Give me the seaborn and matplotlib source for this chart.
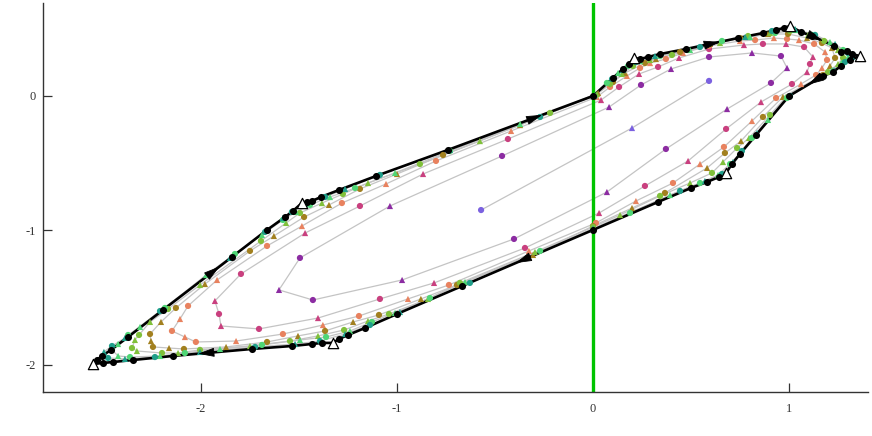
import numpy as np
import pandas as pd
import matplotlib
matplotlib.use("Agg")
import matplotlib.pyplot as plt
import seaborn as sns

# -----------------------------
# Limit cycle (black) and its corner points
# -----------------------------
cycle_x = [0.000, 0.102, 0.153, 0.184, 0.209, 0.240, 0.281, 0.342, 0.474, 0.740,
           0.867, 0.934, 0.974, 1.005, 1.061, 1.117, 1.230, 1.265, 1.296, 1.321,
           1.362, 1.311, 1.265, 1.224, 1.173, 1.000, 0.832, 0.750, 0.709, 0.679,
           0.643, 0.582, 0.500, 0.332, 0.000, -0.668, -1.000, -1.163, -1.250, -1.296,
           -1.327, -1.383, -1.434, -1.536, -1.740, -2.143, -2.347, -2.449, -2.500, -2.551,
           -2.531, -2.505, -2.459, -2.372, -2.194, -1.842, -1.663, -1.571, -1.531, -1.485,
           -1.459, -1.434, -1.388, -1.296, -1.107, -0.740]
cycle_y = [0.000, 0.134, 0.201, 0.238, 0.283, 0.275, 0.290, 0.312, 0.349, 0.431,
           0.468, 0.491, 0.506, 0.520, 0.476, 0.446, 0.372, 0.327, 0.335, 0.312,
           0.297, 0.268, 0.223, 0.178, 0.149, 0.000, -0.290, -0.431, -0.506, -0.572,
           -0.602, -0.639, -0.684, -0.788, -0.996, -1.413, -1.621, -1.725, -1.777, -1.807,
           -1.836, -1.836, -1.844, -1.859, -1.881, -1.933, -1.963, -1.978, -1.985, -1.993,
           -1.963, -1.933, -1.888, -1.792, -1.591, -1.197, -0.996, -0.900, -0.855, -0.796,
           -0.788, -0.781, -0.751, -0.699, -0.595, -0.401]
corner_idx = [4, 13, 20, 29, 40, 49, 59]
arrow_seg = [65, 8, 15, 24, 34, 44, 54]
arrow_frac = [0.63, 0.63, 0.45, 0.41, 0.57, 0.66, 0.80]

# -----------------------------
# Inner orbits, smallest to largest
# -----------------------------
lavender_x = [-0.571, 0.199, 0.592]
lavender_y = [-0.848, -0.238, 0.112]

purple_x = [0.990, 0.908, 0.684, 0.372, 0.071, -0.403, -0.974, -1.429, -1.602,
            -1.495, -1.036, -0.464, 0.082, 0.245, 0.398, 0.592, 0.811, 0.959]
purple_y = [0.208, 0.097, -0.097, -0.394, -0.714, -1.063, -1.368, -1.517, -1.442,
            -1.204, -0.818, -0.446, -0.082, 0.082, 0.201, 0.290, 0.320, 0.297]

magenta_x = [0.041, 0.133, 0.235, 0.332, 0.439, 0.592, 0.770, 0.867, 0.985, 1.077,
             1.122, 1.107, 1.092, 1.015, 0.857, 0.679, 0.485, 0.265, 0.031, -0.347,
             -0.811, -1.087, -1.403, -1.704, -1.898, -1.908, -1.929, -1.796, -1.469,
             -1.189, -0.867, -0.434]
magenta_y = [-0.030, 0.067, 0.164, 0.216, 0.283, 0.349, 0.379, 0.387, 0.387, 0.364,
             0.290, 0.238, 0.178, 0.089, -0.045, -0.245, -0.483, -0.669, -0.870, -1.130,
             -1.390, -1.509, -1.651, -1.732, -1.710, -1.621, -1.524, -1.323, -1.019,
             -0.818, -0.580, -0.320]

salmon_x = [0.020, 0.087, 0.173, 0.240, 0.291, 0.372, 0.459, 0.592, 0.750, 0.827,
            0.923, 0.990, 1.051, 1.128, 1.184, 1.194, 1.168, 1.138, 1.061, 0.934,
            0.811, 0.668, 0.546, 0.408, 0.219, 0.015, -0.327, -0.735, -0.944, -1.194,
            -1.378, -1.582, -1.821, -2.026, -2.082, -2.148, -2.107, -2.066, -1.918,
            -1.663, -1.485, -1.281, -1.056, -0.801, -0.418]
salmon_y = [-0.007, 0.067, 0.149, 0.208, 0.245, 0.275, 0.320, 0.372, 0.409, 0.416,
            0.431, 0.424, 0.416, 0.387, 0.327, 0.268, 0.208, 0.156, 0.089, -0.015,
            -0.186, -0.379, -0.506, -0.647, -0.781, -0.944, -1.152, -1.405, -1.509, -1.636,
            -1.703, -1.770, -1.822, -1.829, -1.792, -1.747, -1.658, -1.561, -1.368,
            -1.115, -0.967, -0.796, -0.654, -0.483, -0.260]

olive_x = [0.026, 0.102, 0.163, 0.265, 0.321, 0.444, 0.597, 0.750, 0.893, 0.995,
           1.092, 1.168, 1.219, 1.235, 1.209, 1.173, 0.969, 0.867, 0.755, 0.673,
           0.582, 0.367, 0.199, 0.000, -0.306, -0.694, -0.878, -1.092, -1.224, -1.367,
           -1.505, -1.663, -1.872, -2.087, -2.163, -2.245, -2.255, -2.260, -2.204, -2.128,
           -1.980, -1.750, -1.628, -1.474, -1.347, -1.189, -1.000, -0.765, -0.372]
olive_y = [0.022, 0.104, 0.171, 0.245, 0.275, 0.327, 0.387, 0.431, 0.461, 0.461,
           0.431, 0.394, 0.357, 0.283, 0.223, 0.156, -0.007, -0.156, -0.335, -0.424,
           -0.535, -0.721, -0.833, -0.967, -1.182, -1.405, -1.509, -1.628, -1.680, -1.747,
           -1.784, -1.829, -1.866, -1.881, -1.874, -1.866, -1.822, -1.770, -1.680, -1.576,
           -1.398, -1.152, -1.041, -0.900, -0.810, -0.691, -0.580, -0.439, -0.216]

lime_x = [0.020, 0.087, 0.148, 0.204, 0.291, 0.403, 0.648, 0.791, 0.903, 1.005,
          1.097, 1.179, 1.250, 1.276, 1.250, 1.199, 0.985, 0.903, 0.796, 0.735,
          0.663, 0.607, 0.495, 0.342, 0.138, 0.000, -0.296, -0.679, -0.842, -1.041,
          -1.148, -1.270, -1.403, -1.546, -1.750, -2.005, -2.117, -2.199, -2.327, -2.352,
          -2.337, -2.316, -2.260, -2.168, -2.005, -1.694, -1.566, -1.495, -1.383, -1.276,
          -1.148, -0.883, -0.577, -0.219]
lime_y = [0.015, 0.089, 0.164, 0.223, 0.268, 0.305, 0.394, 0.446, 0.468, 0.483,
          0.454, 0.409, 0.342, 0.283, 0.238, 0.178, -0.007, -0.141, -0.312, -0.387,
          -0.491, -0.572, -0.647, -0.743, -0.885, -0.974, -1.160, -1.390, -1.509, -1.621,
          -1.673, -1.740, -1.784, -1.822, -1.859, -1.888, -1.911, -1.911, -1.896, -1.874,
          -1.814, -1.777, -1.680, -1.584, -1.405, -1.078, -0.944, -0.870, -0.796, -0.729,
          -0.647, -0.506, -0.335, -0.126]

green_x = [0.010, 0.071, 0.128, 0.179, 0.240, 0.342, 0.495, 0.658, 0.801, 0.929,
           1.031, 1.117, 1.209, 1.276, 1.301, 1.276, 1.219, 0.990, 0.893, 0.811,
           0.750, 0.699, 0.638, 0.546, 0.393, 0.189, 0.000, -0.270, -0.653, -0.832,
           -1.010, -1.128, -1.240, -1.362, -1.495, -1.689, -1.903, -2.082, -2.209, -2.362,
           -2.423, -2.454, -2.423, -2.372, -2.311, -2.184, -1.974, -1.827, -1.689, -1.582,
           -1.515, -1.444, -1.342, -1.214, -1.010, -0.730, -0.372]
green_y = [0.007, 0.097, 0.171, 0.223, 0.260, 0.297, 0.342, 0.409, 0.439, 0.468,
           0.491, 0.454, 0.401, 0.342, 0.290, 0.245, 0.193, -0.015, -0.178, -0.312,
           -0.424, -0.506, -0.587, -0.647, -0.736, -0.870, -0.989, -1.152, -1.383, -1.502,
           -1.613, -1.680, -1.747, -1.792, -1.814, -1.851, -1.881, -1.911, -1.933, -1.941,
           -1.933, -1.888, -1.844, -1.777, -1.717, -1.576, -1.331, -1.175, -1.033, -0.922,
           -0.862, -0.810, -0.751, -0.684, -0.572, -0.409, -0.208]

teal_x = [0.005, 0.097, 0.153, 0.219, 0.316, 0.546, 0.776, 0.913, 1.031, 1.133,
          1.235, 1.301, 1.321, 1.286, 1.230, 1.005, 0.837, 0.760, 0.714, 0.658,
          0.571, 0.444, 0.000, -0.628, -0.985, -1.138, -1.265, -1.393, -1.520, -1.724,
          -2.005, -2.235, -2.388, -2.474, -2.495, -2.454, -2.388, -2.209, -1.852, -1.673,
          -1.582, -1.536, -1.469, -1.367, -1.265, -1.087, -0.730, -0.270]
teal_y = [0.000, 0.126, 0.193, 0.253, 0.297, 0.364, 0.439, 0.483, 0.498, 0.454,
          0.387, 0.320, 0.290, 0.253, 0.193, 0.000, -0.275, -0.409, -0.491, -0.580,
          -0.632, -0.706, -0.985, -1.390, -1.606, -1.703, -1.770, -1.822, -1.844, -1.866,
          -1.903, -1.941, -1.955, -1.948, -1.903, -1.859, -1.799, -1.599, -1.204, -1.011,
          -0.907, -0.862, -0.803, -0.751, -0.691, -0.587, -0.401, -0.156]

orbit_names = ["lavender", "purple", "magenta", "salmon", "olive", "lime", "green", "teal"]
orbit_colors = ["#7b61e0", "#8c2ca2", "#c9407f", "#e8825f", "#a2801f", "#80c03a", "#4fd675", "#1f9e8a"]
orbit_x = [lavender_x, purple_x, magenta_x, salmon_x, olive_x, lime_x, green_x, teal_x]
orbit_y = [lavender_y, purple_y, magenta_y, salmon_y, olive_y, lime_y, green_y, teal_y]
orbit_closed = [False, True, True, True, True, True, True, True]
orbit_first = ["dot", "tri", "tri", "tri", "tri", "tri", "tri", "tri"]

# -----------------------------
# Build table of orbit points
# -----------------------------
rows = []
for name, xs, ys, first in zip(orbit_names, orbit_x, orbit_y, orbit_first):
    other = "dot" if first == "tri" else "tri"
    for i, (x, y) in enumerate(zip(xs, ys)):
        rows.append({"x": x, "y": y, "orbit": name,
                     "shape": first if i % 2 == 0 else other})
df = pd.DataFrame(rows)

sns.set_theme(style="ticks")
plt.rcParams["font.family"] = ["Liberation Serif", "DejaVu Serif"]
plt.rcParams["axes.unicode_minus"] = False

fig = plt.figure(figsize=(8.72, 4.36), dpi=100)
ax = fig.add_axes([0.0493, 0.1009, 0.9461, 0.8921])

# gray connecting lines
for xs, ys, closed in zip(orbit_x, orbit_y, orbit_closed):
    px, py = list(xs), list(ys)
    if closed:
        px, py = px + px[:1], py + py[:1]
    ax.plot(px, py, color="#c4c4c4", lw=0.9, zorder=1)

ax.axvline(0, color="#00c400", lw=2.4, zorder=1.5)

# black limit cycle line
ax.plot(cycle_x + cycle_x[:1], cycle_y + cycle_y[:1], color="black", lw=1.9,
        zorder=2, solid_joinstyle="miter")

sns.scatterplot(data=df, x="x", y="y", hue="orbit", style="shape",
                palette=dict(zip(orbit_names, orbit_colors)),
                markers={"dot": "o", "tri": "^"}, s=20, linewidth=0,
                legend=False, ax=ax, zorder=3)

dot_idx = [i for i in range(len(cycle_x)) if i not in corner_idx]
sns.scatterplot(x=[cycle_x[i] for i in dot_idx], y=[cycle_y[i] for i in dot_idx],
                color="black", s=26, linewidth=0, ax=ax, zorder=4)
ax.scatter([cycle_x[i] for i in corner_idx], [cycle_y[i] for i in corner_idx],
           marker="^", s=55, facecolor="white", edgecolor="black", lw=0.9, zorder=5)

# direction arrows along the cycle
n = len(cycle_x)
for seg, f in zip(arrow_seg, arrow_frac):
    x0, y0 = cycle_x[seg], cycle_y[seg]
    x1, y1 = cycle_x[(seg + 1) % n], cycle_y[(seg + 1) % n]
    mx, my = x0 + f * (x1 - x0), y0 + f * (y1 - y0)
    ax.annotate("", xy=(mx + 0.02 * (x1 - x0), my + 0.02 * (y1 - y0)),
                xytext=(mx - 0.02 * (x1 - x0), my - 0.02 * (y1 - y0)),
                arrowprops=dict(arrowstyle="-|>,head_length=0.85,head_width=0.24",
                                color="black", lw=0.6, mutation_scale=12,
                                shrinkA=0, shrinkB=0),
                zorder=6)

ax.set_xlim(-2.806, 1.403)
ax.set_ylim(-2.201, 0.691)
ax.set_xticks([-2, -1, 0, 1])
ax.set_yticks([-2, -1, 0])
ax.set_xticklabels(["-2", "-1", "0", "1"])
ax.set_yticklabels(["-2", "-1", "0"])
ax.set_xlabel("")
ax.set_ylabel("")
sns.despine(ax=ax)
for sp in ["left", "bottom"]:
    ax.spines[sp].set_color("#333333")
    ax.spines[sp].set_linewidth(1.0)
ax.tick_params(direction="in", length=6.5, width=0.9, colors="#333333", labelsize=9)
ax.tick_params(axis="x", pad=8)
ax.tick_params(axis="y", pad=5)

fig.savefig("out.png", dpi=100)
